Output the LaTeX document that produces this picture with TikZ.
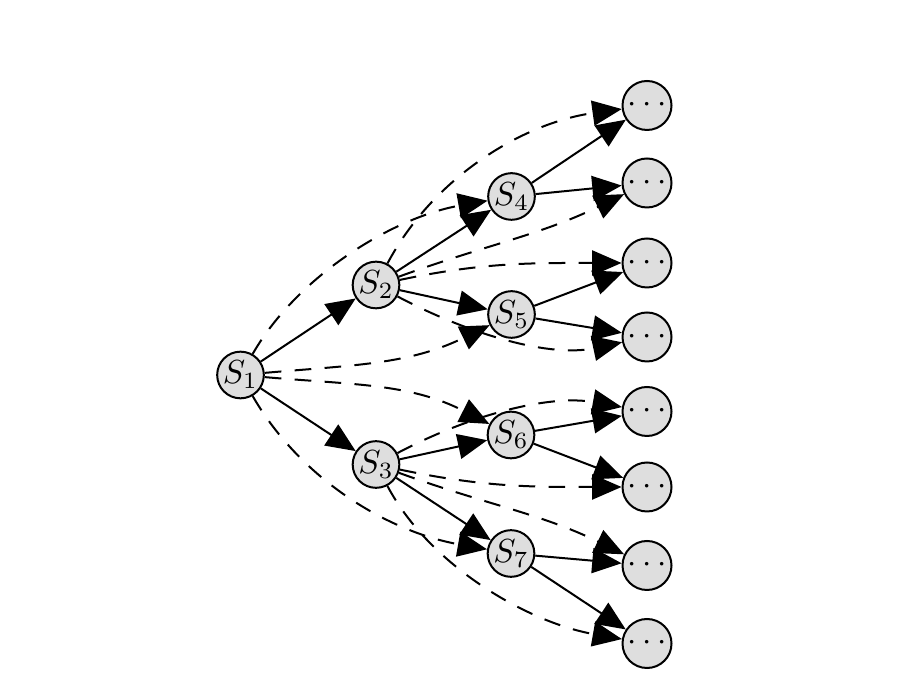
\documentclass[tikz,border=0pt]{standalone}
\usetikzlibrary{arrows.meta}
\definecolor{nodefill}{RGB}{222,222,222}
\begin{document}
\begin{tikzpicture}[x=0.3pt,y=0.3pt,
  state/.style={circle,draw,fill=nodefill,line width=0.6pt,minimum size=14pt,inner sep=0pt},
  leaf/.style={circle,draw,fill=nodefill,line width=0.6pt,minimum size=14.7pt,inner sep=0pt},
  move/.style={line width=0.6pt,-{Triangle[length=8.8pt,width=7.5pt]}},
  skip/.style={move,dash pattern=on 5pt off 4pt}]
\useasboundingbox (0,0) rectangle (919,695);

% states
\node[state] (S1) at (240.5,320) {$S_1$};
\node[state] (S2) at (376,410) {$S_2$};
\node[state] (S3) at (376,230.5) {$S_3$};
\node[state] (S4) at (511.5,498.5) {$S_4$};
\node[state] (S5) at (511.5,380.5) {$S_5$};
\node[state] (S6) at (511,260) {$S_6$};
\node[state] (S7) at (511,141.5) {$S_7$};

% unexpanded successors
\node[leaf] (L1) at (647,589.5) {$\cdots$};
\node[leaf] (L2) at (647,512) {$\cdots$};
\node[leaf] (L3) at (647,432) {$\cdots$};
\node[leaf] (L4) at (647,358) {$\cdots$};
\node[leaf] (L5) at (647,283.5) {$\cdots$};
\node[leaf] (L6) at (647,208) {$\cdots$};
\node[leaf] (L7) at (647,129.5) {$\cdots$};
\node[leaf] (L8) at (647,51.5) {$\cdots$};

% direct transitions
\draw[move] (S1) -- (S2);
\draw[move] (S1) -- (S3);
\draw[move] (S2) -- (S4);
\draw[move] (S2) -- (S5);
\draw[move] (S3) -- (S6);
\draw[move] (S3) -- (S7);
\draw[move] (S4) -- (L1);
\draw[move] (S4) -- (L2);
\draw[move] (S5) -- (L3);
\draw[move] (S5) -- (L4);
\draw[move] (S6) -- (L5);
\draw[move] (S6) -- (L6);
\draw[move] (S7) -- (L7);
\draw[move] (S7) -- (L8);

% two-step transitions
\draw[skip] (S1) to[out=60,in=190,looseness=0.85] (S4);
\draw[skip] (S1) to[out=5,in=206] (S5);
\draw[skip] (S1) to[out=-5,in=153] (S6);
\draw[skip] (S1) to[out=-60,in=170,looseness=0.9] (S7);

\draw[skip] (S2) to[out=62,in=188,looseness=0.9] (L1);
\draw[skip] (S2) to[out=20,in=206] (L2);
\draw[skip] (S2) to[out=12,in=180] (L3);
\draw[skip] (S2) to[out=-28,in=192,looseness=0.85] (L4);

\draw[skip] (S3) to[out=28,in=170,looseness=0.85] (L5);
\draw[skip] (S3) to[out=-12,in=180] (L6);
\draw[skip] (S3) to[out=-20,in=154] (L7);
\draw[skip] (S3) to[out=-62,in=170,looseness=0.85] (L8);
\end{tikzpicture}
\end{document}
